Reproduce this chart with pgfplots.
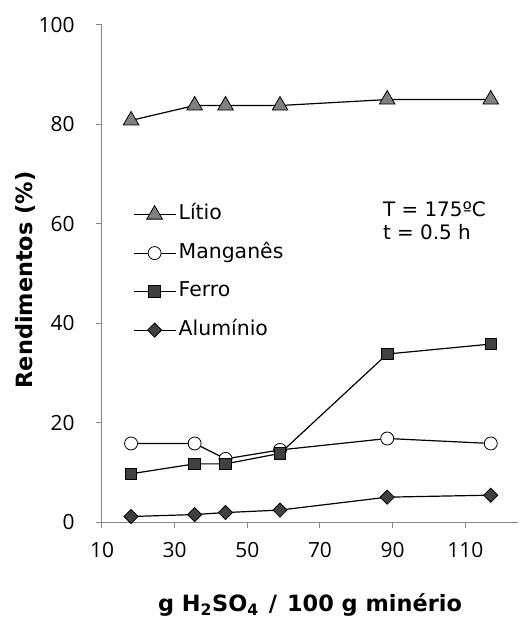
\documentclass[border=0pt]{standalone}
\usepackage{fontspec}
\setmainfont{Open Sans}
\newfontfamily\legfont{DejaVu Sans}
\usepackage{pgfplots}
\pgfplotsset{compat=1.18}
\definecolor{axgray}{HTML}{868686}
\definecolor{trigray}{HTML}{808080}
\definecolor{dkgray}{HTML}{404040}
\begin{document}
\begin{tikzpicture}
\useasboundingbox (-102bp,-100bp) rectangle (423bp,522bp);
\begin{axis}[
  at={(0,0)}, anchor=south west,
  scale only axis, width=416bp, height=497bp,
  xmin=10, xmax=124.5, ymin=0, ymax=100,
  xtick={10,30,50,70,90,110}, ytick={0,20,40,60,80,100},
  axis x line*=bottom, axis y line*=left,
  axis line style={axgray, line width=1bp},
  tick style={axgray, line width=1bp},
  tick align=outside, major tick length=6bp,
  /pgf/number format/assume math mode=true,
  tick label style={font=\fontsize{21}{24}\selectfont, black},
  xticklabel style={yshift=-11bp},
  yticklabel style={xshift=-18bp},
  xlabel={g H\textsubscript{2}SO\textsubscript{4}\hspace{0.45em}/\hspace{0.45em}100 g minério},
  ylabel={Rendimentos (\%)},
  label style={font=\legfont\bfseries\fontsize{22.5}{27}\selectfont},
  xlabel style={at={(axis description cs:0.5,0)}, anchor=base, yshift=-89bp},
  ylabel style={at={(axis description cs:-0.184,0.487)}, anchor=center},
  legend cell align=left,
  legend style={at={(axis description cs:0.074,0.638)}, anchor=north west,
    draw=none, fill=none, font=\legfont\fontsize{20.5}{23}\selectfont,
    row sep=19.5bp, inner sep=0pt,
    nodes={inner sep=0.5bp, text height=14bp, text depth=4bp}},
  /tikz/every odd column/.append style={column sep=2bp},
  legend image code/.code={\draw[mark repeat=2,mark phase=2,#1] plot coordinates {(0bp,0bp) (21bp,0bp) (42bp,0bp)};},
  every axis plot/.append style={black, line width=1.2bp},
]
\addplot[mark=triangle*, mark size=9bp, mark options={fill=trigray, draw=black, line width=0.8bp}]
  coordinates {(18,80.8) (35.5,83.8) (44,83.8) (59,83.8) (88.5,85) (117,85)};
\addlegendentry{Lítio}
\addplot[mark=*, mark size=6.5bp, mark options={fill=white, draw=black, line width=0.8bp}]
  coordinates {(18,15.8) (35.5,15.8) (44,12.7) (59,14.5) (88.5,16.8) (117,15.8)};
\addlegendentry{Manganês}
\addplot[mark=square*, mark size=5.8bp, mark options={fill=dkgray, draw=black, line width=0.8bp}]
  coordinates {(18,9.7) (35.5,11.7) (44,11.7) (59,13.8) (88.5,33.8) (117,35.8)};
\addlegendentry{Ferro}
\addplot[mark=square*, mark size=5bp, mark options={fill=dkgray, draw=black, line width=0.8bp, rotate=45}]
  coordinates {(18,1.1) (35.5,1.5) (44,1.9) (59,2.4) (88.5,5.0) (117,5.4)};
\addlegendentry{Alumínio}
\node[anchor=north west, align=left, inner sep=0pt, font=\legfont\fontsize{20}{23}\selectfont] at (axis cs:87.3,64.4) {T = 175ºC\\t = 0.5 h};
\end{axis}
\end{tikzpicture}
\end{document}
